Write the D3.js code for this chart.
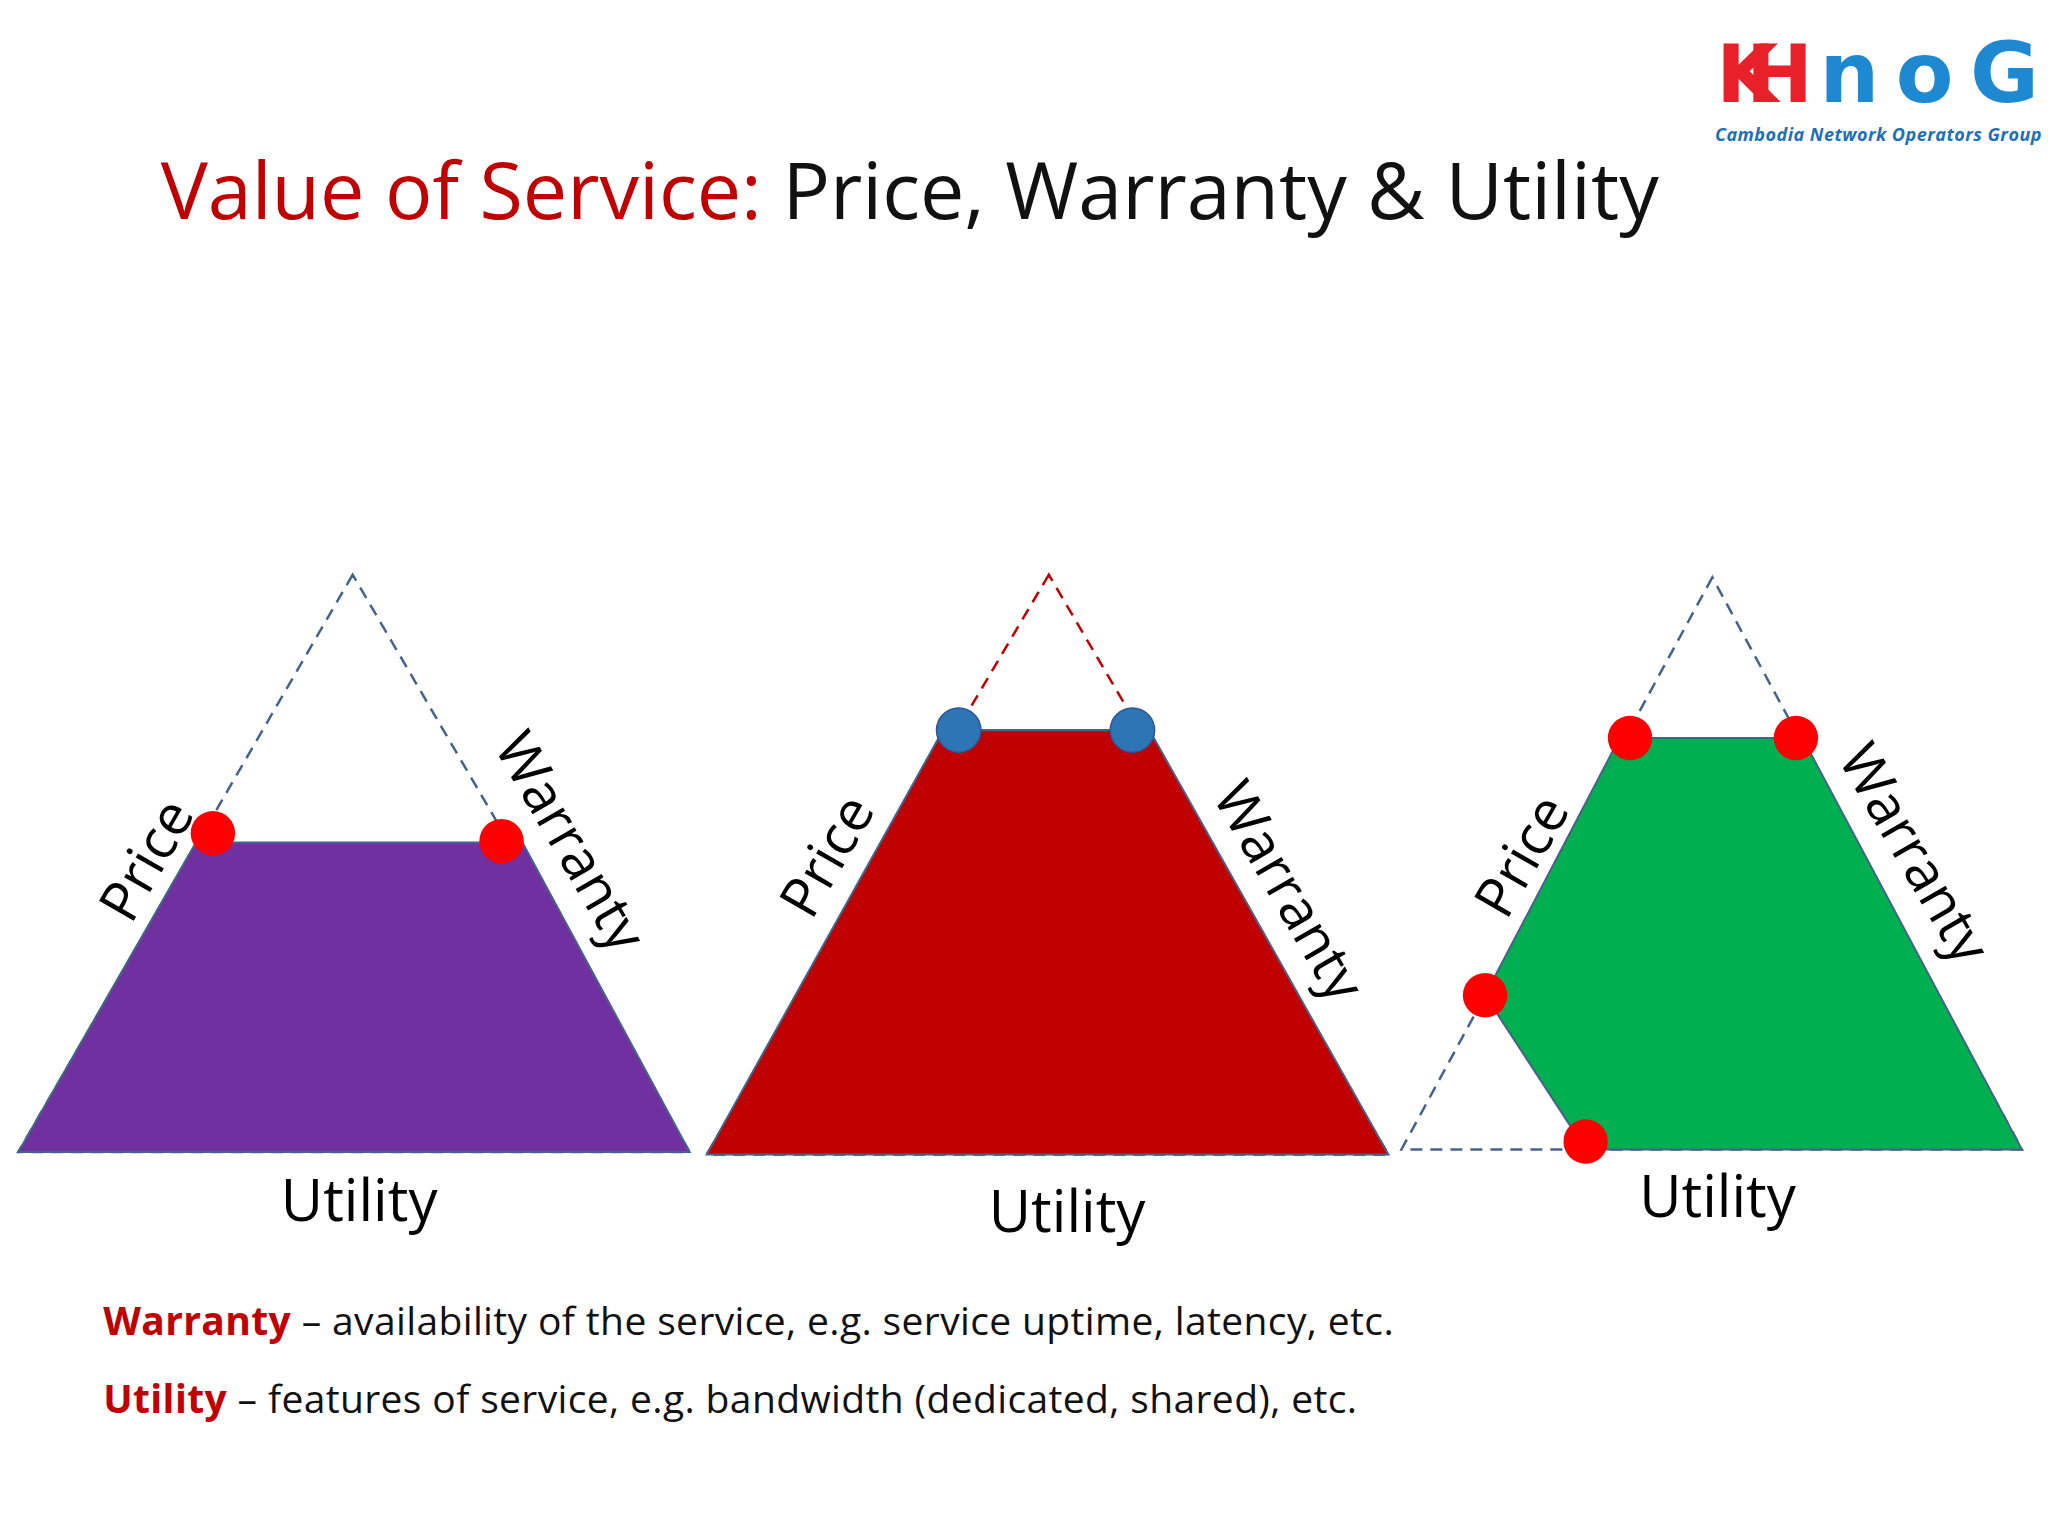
<!DOCTYPE html>
<html><head><meta charset="utf-8">
<script src="https://cdn.jsdelivr.net/npm/d3@7"></script>
<style>body{margin:0;background:#fff}</style></head>
<body><svg id="c" width="2048" height="1536"></svg>
<script>
// Data (reference-image units, 1568 x 1176 frame)
const triangles = ["basic","premium","custom"];
const outlines = [
  [[270,440],[14,882],[528,882]],
  [[803,440],[541,884],[1063,884]],
  [[1311,442],[1073,880],[1548,880]]
];
const fills = [
  [[14,882],[150,645],[400,645],[528,882]],
  [[541,884],[722,559],[880,559],[1063,884]],
  [[1137,762],[1240,565],[1380,565],[1548,880],[1214,880]]
];
const fillColors = ["#7030a0","#c00000","#00b050"];
const dashColors = ["#44638a","#c00000","#44638a"];
const dots = [
  [[163,638],[384,644]],
  [[734,559],[867,559]],
  [[1248,565],[1375,565],[1137,762],[1214,874]]
];
const dotColors = ["#ff0000","#2e75b6","#ff0000"];
const priceLabels = [[115,660],[636,657],[1168,657]];
const warrantyLabels = [[434,646],[984,684],[1463,655]];
const utilityLabels = [[275,935],[817,943],[1315,932]];

const svg = d3.select("#c");
const sx = d3.scaleLinear().domain([0,1568]).range([0,2048]);
const sy = d3.scaleLinear().domain([0,1176]).range([0,1536]);
const pt = p => [sx(p[0]), sy(p[1])];
const line = d3.line().x(d=>sx(d[0])).y(d=>sy(d[1]));
const F = "'Open Sans', sans-serif";

// title
const t = svg.append("text").attr("x",sx(123)).attr("y",sy(168)).attr("font-family",F).attr("font-size",79);
t.append("tspan").attr("fill","#c00000").text("Value of Service: ");
t.append("tspan").attr("fill","#111").text("Price, Warranty & Utility");

triangles.forEach((k,i)=>{
  const g = svg.append("g");
  g.append("path").attr("d",line(outlines[i])+"Z").attr("fill","none")
    .attr("stroke",dashColors[i]).attr("stroke-width",2.5).attr("stroke-dasharray","12,8");
  g.append("path").attr("d",line(fills[i])+"Z").attr("fill",fillColors[i])
    .attr("stroke","#44638a").attr("stroke-width",2);
  dots[i].forEach(d=>{
    g.append("ellipse").attr("cx",sx(d[0])).attr("cy",sy(d[1])).attr("rx",sx(17)).attr("ry",sy(17))
      .attr("fill",dotColors[i]).attr("stroke",i==1?"#2f5597":"none").attr("stroke-width",1.5);
  });
  const [px,py]=pt(priceLabels[i]);
  g.append("text").attr("transform",`translate(${px},${py}) rotate(-60)`).attr("text-anchor","middle")
    .attr("dominant-baseline","middle").attr("font-family",F).attr("font-size",56).attr("fill","#000").text("Price");
  const [wx,wy]=pt(warrantyLabels[i]);
  g.append("text").attr("transform",`translate(${wx},${wy}) rotate(60)`).attr("text-anchor","middle")
    .attr("dominant-baseline","middle").attr("font-family",F).attr("font-size",56).attr("fill","#000").text("Warranty");
  const [ux,uy]=pt(utilityLabels[i]);
  g.append("text").attr("x",ux).attr("y",uy).attr("text-anchor","middle")
    .attr("font-family",F).attr("font-size",58).attr("fill","#000").text("Utility");
});

// notes
const notes = [["Warranty"," – availability of the service, e.g. service uptime, latency, etc."],
               ["Utility"," – features of service, e.g. bandwidth (dedicated, shared), etc."]];
const noteWidths = [988, 960];
notes.forEach((n,i)=>{
  const tx = svg.append("text").attr("x",sx(79)).attr("y",sy(1022+i*60)).attr("font-family",F).attr("font-size",39)
    .attr("textLength",sx(noteWidths[i])).attr("lengthAdjust","spacing");
  tx.append("tspan").attr("fill","#c00000").attr("font-weight","bold").text(n[0]);
  tx.append("tspan").attr("fill","#111").text(n[1]);
});

// logo
svg.append("text").attr("x",sx(1314)).attr("y",sy(78)).attr("font-family","'DejaVu Sans'").attr("font-weight","bold")
  .attr("font-size",80).attr("fill","#e8202a").attr("textLength",sx(74)).text("KH");
svg.append("text").attr("x",sx(1393)).attr("y",sy(78)).attr("font-family","'DejaVu Sans'").attr("font-weight","bold")
  .attr("font-size",84).attr("fill","#1e88d0").attr("textLength",sx(168)).text("noG");
svg.append("text").attr("x",sx(1313)).attr("y",sy(108)).attr("font-family","'Open Sans'").attr("font-weight","bold")
  .attr("font-style","italic").attr("font-size",18).attr("fill","#1e6fb8").attr("textLength",sx(250)).text("Cambodia Network Operators Group");
</script></body></html>
